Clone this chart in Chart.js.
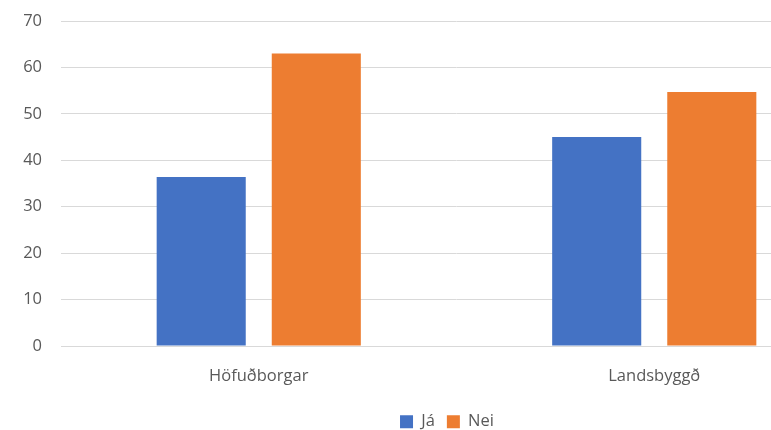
<!DOCTYPE html>
<html>
<head>
<meta charset="utf-8">
<script src="https://cdn.jsdelivr.net/npm/chart.js@4/dist/chart.umd.min.js"></script>
<style>
  html, body { margin: 0; padding: 0; background: #fff; overflow: hidden; }
  #wrap { width: 771px; height: 430px; overflow: hidden; }
</style>
</head>
<body>
<div id="wrap"><canvas id="chart" width="890" height="430"></canvas></div>
<script>
const categories = ['Höfuðborgar', 'Landsbyggð'];
const jaValues = [36.4, 45];
const neiValues = [63, 54.7];
const yTicks = [0, 10, 20, 30, 40, 50, 60, 70];

const ctx = document.getElementById('chart').getContext('2d');

// move the legend a bit lower / right, like the Excel original
const legendShift = {
  id: 'legendShift',
  afterLayout(chart) {
    const lg = chart.legend;
    lg.top += 10; lg.bottom += 10;
    lg.left += 20; lg.right += 20;
  }
};

// Súlurit: Já / Nei
const chart = new Chart(ctx, {
  type: 'bar',
  data: {
    labels: categories,
    datasets: [
      {
        label: 'Já',
        data: jaValues,
        backgroundColor: '#4472C4',
        categoryPercentage: 0.582,
        barPercentage: 0.774
      },
      {
        label: 'Nei',
        data: neiValues,
        backgroundColor: '#ED7D31',
        categoryPercentage: 0.582,
        barPercentage: 0.774
      }
    ]
  },
  plugins: [legendShift],
  options: {
    responsive: false,
    animation: false,
    layout: { padding: { top: 21, right: 38, left: 2, bottom: 0 } },
    plugins: {
      legend: {
        position: 'bottom',
        labels: {
          boxWidth: 13,
          boxHeight: 13,
          padding: 12,
          color: '#595959',
          font: { family: 'Open Sans', size: 16.5 }
        }
      },
      tooltip: { enabled: false }
    },
    scales: {
      x: {
        afterFit: s => { s.height = 45.5; },
        grid: { display: false },
        border: { color: '#d9d9d9' },
        ticks: {
          color: '#595959',
          padding: 12,
          font: { family: 'Open Sans', size: 16.5 }
        }
      },
      y: {
        min: yTicks[0],
        max: yTicks[yTicks.length - 1],
        afterFit: s => { s.width = 59; s.paddingTop = 0; s.paddingBottom = 0; },
        afterBuildTicks: s => { s.ticks = yTicks.map(v => ({ value: v })); },
        grid: { color: '#d9d9d9', drawTicks: false },
        border: { display: false },
        ticks: {
          color: '#595959',
          padding: 19,
          font: { family: 'Open Sans', size: 16.5 }
        }
      }
    }
  }
});
</script>
</body>
</html>
